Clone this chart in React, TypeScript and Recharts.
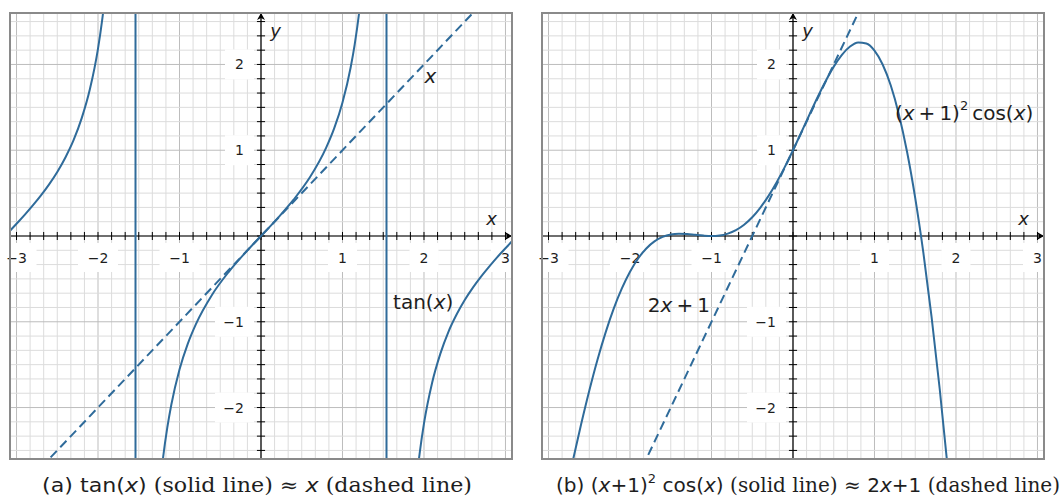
import React from 'react'
import {
  LineChart, Line, XAxis, YAxis, ReferenceLine, ReferenceDot, ReferenceArea
} from 'recharts'

const X_DOMAIN: [number, number] = [-3.08, 3.08]
const Y_DOMAIN: [number, number] = [-2.6, 2.6]
const xTickLabels = [-3, -2, -1, 1, 2, 3]
const yTickLabels = [-2, -1, 1, 2]
const MINOR_DIV = 6

// (a) tan(x), three branches
const tanLeft = [
  { x: -3.08, y: 0.062 }, { x: -3.0, y: 0.143 }, { x: -2.9, y: 0.246 }, { x: -2.8, y: 0.356 },
  { x: -2.7, y: 0.473 }, { x: -2.6, y: 0.602 }, { x: -2.5, y: 0.747 }, { x: -2.4, y: 0.916 },
  { x: -2.3, y: 1.117 }, { x: -2.2, y: 1.374 }, { x: -2.1, y: 1.71 }, { x: -2.0, y: 2.185 },
  { x: -1.95, y: 2.51 }, { x: -1.9, y: 2.927 }, { x: -1.85, y: 3.48 },
]
const tanMid = [
  { x: -1.3, y: -3.602 }, { x: -1.25, y: -3.01 }, { x: -1.2, y: -2.572 }, { x: -1.15, y: -2.235 },
  { x: -1.1, y: -1.965 }, { x: -1.0, y: -1.557 }, { x: -0.9, y: -1.26 }, { x: -0.8, y: -1.03 },
  { x: -0.6, y: -0.684 }, { x: -0.4, y: -0.423 }, { x: -0.2, y: -0.203 }, { x: 0, y: 0 },
  { x: 0.2, y: 0.203 }, { x: 0.4, y: 0.423 }, { x: 0.6, y: 0.684 }, { x: 0.8, y: 1.03 },
  { x: 0.9, y: 1.26 }, { x: 1.0, y: 1.557 }, { x: 1.1, y: 1.965 }, { x: 1.15, y: 2.235 },
  { x: 1.2, y: 2.572 }, { x: 1.25, y: 3.01 }, { x: 1.3, y: 3.602 },
]
const tanRight = [
  { x: 1.85, y: -3.48 }, { x: 1.9, y: -2.927 }, { x: 1.95, y: -2.51 }, { x: 2.0, y: -2.185 },
  { x: 2.1, y: -1.71 }, { x: 2.2, y: -1.374 }, { x: 2.3, y: -1.117 }, { x: 2.4, y: -0.916 },
  { x: 2.5, y: -0.747 }, { x: 2.6, y: -0.602 }, { x: 2.7, y: -0.473 }, { x: 2.8, y: -0.356 },
  { x: 2.9, y: -0.246 }, { x: 3.0, y: -0.143 }, { x: 3.08, y: -0.062 },
]
const tanJumps = [-1.54, 1.54]
const identityLine = [{ x: -2.7, y: -2.7 }, { x: 2.7, y: 2.7 }]

// (b) (x+1)^2 cos(x) and its tangent 2x+1
const cosCurve = [
  { x: -2.8, y: -3.053 }, { x: -2.7, y: -2.613 }, { x: -2.6, y: -2.194 }, { x: -2.5, y: -1.803 },
  { x: -2.4, y: -1.445 }, { x: -2.3, y: -1.126 }, { x: -2.2, y: -0.847 }, { x: -2.1, y: -0.611 },
  { x: -2.0, y: -0.416 }, { x: -1.9, y: -0.262 }, { x: -1.8, y: -0.145 }, { x: -1.7, y: -0.063 },
  { x: -1.6, y: -0.011 }, { x: -1.5, y: 0.018 }, { x: -1.4, y: 0.027 }, { x: -1.3, y: 0.024 },
  { x: -1.2, y: 0.014 }, { x: -1.1, y: 0.005 }, { x: -1.0, y: 0 }, { x: -0.9, y: 0.006 },
  { x: -0.8, y: 0.028 }, { x: -0.7, y: 0.069 }, { x: -0.6, y: 0.132 }, { x: -0.5, y: 0.219 },
  { x: -0.4, y: 0.332 }, { x: -0.3, y: 0.468 }, { x: -0.2, y: 0.627 }, { x: -0.1, y: 0.806 },
  { x: 0, y: 1 }, { x: 0.1, y: 1.204 }, { x: 0.2, y: 1.411 }, { x: 0.3, y: 1.615 },
  { x: 0.4, y: 1.805 }, { x: 0.5, y: 1.975 }, { x: 0.6, y: 2.113 }, { x: 0.7, y: 2.21 },
  { x: 0.8, y: 2.257 }, { x: 0.9, y: 2.244 }, { x: 1.0, y: 2.161 }, { x: 1.1, y: 2.0 },
  { x: 1.2, y: 1.754 }, { x: 1.3, y: 1.415 }, { x: 1.4, y: 0.979 }, { x: 1.5, y: 0.442 },
  { x: 1.6, y: -0.197 }, { x: 1.7, y: -0.939 }, { x: 1.8, y: -1.781 }, { x: 1.9, y: -2.719 },
  { x: 2.0, y: -3.745 },
]
const tangentLine = [{ x: -1.85, y: -2.7 }, { x: 0.85, y: 2.7 }]

const BLUE = '#2f6b9a'
const SANS = '"DejaVu Sans", sans-serif'
const SERIF = '"DejaVu Serif", serif'
const INK = '#1e1e1e'

function minorTicks(lo: number, hi: number) {
  const out: number[] = []
  for (let k = Math.ceil(lo * MINOR_DIV); k <= Math.floor(hi * MINOR_DIV); k++) out.push(k / MINOR_DIV)
  return out
}
const xMinor = minorTicks(X_DOMAIN[0], X_DOMAIN[1])
const yMinor = minorTicks(Y_DOMAIN[0], Y_DOMAIN[1])
const isMajor = (v: number) => Math.abs(v - Math.round(v)) < 1e-6

const fmt = (t: number) => (t < 0 ? `\u2212${-t}` : `${t}`)

const xTickShape = (t: number) => (p: any) => {
  const s = fmt(t)
  const w = 18 + 11 * s.length
  return (
    <g>
      <rect x={p.cx - w / 2} y={p.cy + 7} width={w} height={29} fill="#fff" />
      <text x={p.cx} y={p.cy + 22} textAnchor="middle" dominantBaseline="central"
        fontFamily={SANS} fontSize={14} fill={INK}>{s}</text>
    </g>
  )
}
const yTickShape = (t: number) => (p: any) => {
  const s = fmt(t)
  const w = 19 + 10 * s.length
  return (
    <g>
      <rect x={p.cx - 7 - w} y={p.cy - 15} width={w} height={30} fill="#fff" />
      <text x={p.cx - 17} y={p.cy} textAnchor="end" dominantBaseline="central"
        fontFamily={SANS} fontSize={14} fill={INK}>{s}</text>
    </g>
  )
}
const arrowUp = (p: any) => (
  <path d={`M${p.cx},${p.cy} L${p.cx + 4},${p.cy + 7} L${p.cx},${p.cy + 5} L${p.cx - 4},${p.cy + 7} Z`} fill="#000" />
)
const arrowRight = (p: any) => (
  <path d={`M${p.cx},${p.cy} L${p.cx - 7},${p.cy - 4} L${p.cx - 5},${p.cy} L${p.cx - 7},${p.cy + 4} Z`} fill="#000" />
)
const mathText = (parts: React.ReactNode, size = 20) => (p: any) => (
  <text x={p.cx} y={p.cy} textAnchor="middle" dominantBaseline="central"
    fontFamily={SANS} fontSize={size} fill={INK}>{parts}</text>
)
const it = (s: string) => <tspan fontStyle="italic">{s}</tspan>

function Panel({ children }: { children: React.ReactNode }) {
  return (
    <LineChart width={522} height={470} margin={{ top: 13, right: 10, bottom: 11, left: 10 }}>
      <XAxis type="number" dataKey="x" domain={X_DOMAIN} allowDataOverflow hide />
      <YAxis type="number" dataKey="y" domain={Y_DOMAIN} allowDataOverflow hide />
      {xMinor.map(v => (
        <ReferenceLine key={`gx${v}`} x={v} zIndex={-200}
          stroke={isMajor(v) ? '#bdbdbd' : '#dcdcdc'} strokeWidth={1} />
      ))}
      {yMinor.map(v => (
        <ReferenceLine key={`gy${v}`} y={v} zIndex={-200}
          stroke={isMajor(v) ? '#bdbdbd' : '#dcdcdc'} strokeWidth={1} />
      ))}
      {xTickLabels.map(t => (
        <ReferenceDot key={`lx${t}`} x={t} y={0} r={0} zIndex={-150} ifOverflow="visible" shape={xTickShape(t)} />
      ))}
      {yTickLabels.map(t => (
        <ReferenceDot key={`ly${t}`} x={0} y={t} r={0} zIndex={-150} ifOverflow="visible" shape={yTickShape(t)} />
      ))}
      <ReferenceLine y={0} stroke="#000" strokeWidth={1.2} zIndex={-100} />
      <ReferenceLine x={0} stroke="#000" strokeWidth={1.2} zIndex={-100} />
      {xMinor.map(v => (
        <ReferenceLine key={`tx${v}`} zIndex={-100}
          segment={[{ x: v, y: -0.047 }, { x: v, y: 0.047 }]} stroke="#000" strokeWidth={1} />
      ))}
      {yMinor.map(v => (
        <ReferenceLine key={`ty${v}`} zIndex={-100}
          segment={[{ x: -0.05, y: v }, { x: 0.05, y: v }]} stroke="#000" strokeWidth={1} />
      ))}
      <ReferenceDot x={0} y={Y_DOMAIN[1]} r={0} ifOverflow="visible" shape={arrowUp} />
      <ReferenceDot x={X_DOMAIN[1]} y={0} r={0} ifOverflow="visible" shape={arrowRight} />
      <ReferenceDot x={0.18} y={2.4} r={0} ifOverflow="visible" shape={mathText(it('y'), 18)} />
      <ReferenceDot x={2.83} y={0.21} r={0} ifOverflow="visible" shape={mathText(it('x'), 18)} />
      {children}
      <ReferenceArea x1={X_DOMAIN[0]} x2={X_DOMAIN[1]} y1={Y_DOMAIN[0]} y2={Y_DOMAIN[1]}
        fill="none" fillOpacity={0} stroke="#8a8a8a" strokeWidth={2} ifOverflow="visible" zIndex={900} />
    </LineChart>
  )
}

const lineProps = { type: 'monotone' as const, dataKey: 'y', stroke: BLUE, strokeWidth: 2, dot: false, isAnimationActive: false }

function Caption({ x, width, children }: { x: number; width: number; children: React.ReactNode }) {
  return (
    <text x={x} y={492} textLength={width} lengthAdjust="spacingAndGlyphs" fontSize={20} fill={INK}>
      {children}
    </text>
  )
}

export default function App() {
  return (
    <div style={{ position: 'absolute', left: 0, top: 0, width: 1064, height: 502, background: '#fff' }}>
      <div style={{ position: 'absolute', left: 0, top: 0 }}>
        <Panel>
          {tanJumps.map(v => (
            <ReferenceLine key={`j${v}`} x={v} stroke={BLUE} strokeWidth={2} />
          ))}
          <Line {...lineProps} data={tanLeft} />
          <Line {...lineProps} data={tanMid} />
          <Line {...lineProps} data={tanRight} />
          <Line {...lineProps} type="linear" data={identityLine} strokeDasharray="9 5" />
          <ReferenceDot x={2.08} y={1.87} r={0} ifOverflow="visible" shape={mathText(it('x'))} />
          <ReferenceDot x={1.99} y={-0.77} r={0} ifOverflow="visible" shape={mathText(<>tan({it('x')})</>)} />
        </Panel>
      </div>
      <div style={{ position: 'absolute', left: 532, top: 0 }}>
        <Panel>
          <Line {...lineProps} data={cosCurve} />
          <Line {...lineProps} type="linear" data={tangentLine} strokeDasharray="9 5" />
          <ReferenceDot x={2.1} y={1.43} r={0} ifOverflow="visible"
            shape={mathText(<>({it('x')}<tspan dx={4}>+</tspan><tspan dx={4}>1)</tspan><tspan dy={-8} fontSize={13}>2</tspan><tspan dy={8} dx={4}>cos(</tspan>{it('x')})</>)} />
          <ReferenceDot x={-1.4} y={-0.8} r={0} ifOverflow="visible"
            shape={mathText(<>2{it('x')}<tspan dx={4}>+</tspan><tspan dx={4}>1</tspan></>)} />
        </Panel>
      </div>
      <svg width={1064} height={502} style={{ position: 'absolute', left: 0, top: 0, pointerEvents: 'none' }}>
        <Caption x={42} width={430}>
          <tspan fontFamily={SANS}>(a) tan(</tspan><tspan fontFamily={SANS} fontStyle="italic">x</tspan><tspan fontFamily={SANS}>)</tspan>
          <tspan fontFamily={SERIF}> (solid line) ≈ </tspan>
          <tspan fontFamily={SANS} fontStyle="italic">x</tspan>
          <tspan fontFamily={SERIF}> (dashed line)</tspan>
        </Caption>
        <Caption x={556} width={504}>
          <tspan fontFamily={SANS}>(b) (</tspan><tspan fontFamily={SANS} fontStyle="italic">x</tspan><tspan fontFamily={SANS}>+1)</tspan>
          <tspan fontFamily={SANS} fontSize={13} dy={-9}>2</tspan>
          <tspan fontFamily={SANS} dy={9}> cos(</tspan><tspan fontFamily={SANS} fontStyle="italic">x</tspan><tspan fontFamily={SANS}>)</tspan>
          <tspan fontFamily={SERIF}> (solid line) ≈ </tspan>
          <tspan fontFamily={SANS}>2</tspan><tspan fontFamily={SANS} fontStyle="italic">x</tspan><tspan fontFamily={SANS}>+1</tspan>
          <tspan fontFamily={SERIF}> (dashed line)</tspan>
        </Caption>
      </svg>
    </div>
  )
}
